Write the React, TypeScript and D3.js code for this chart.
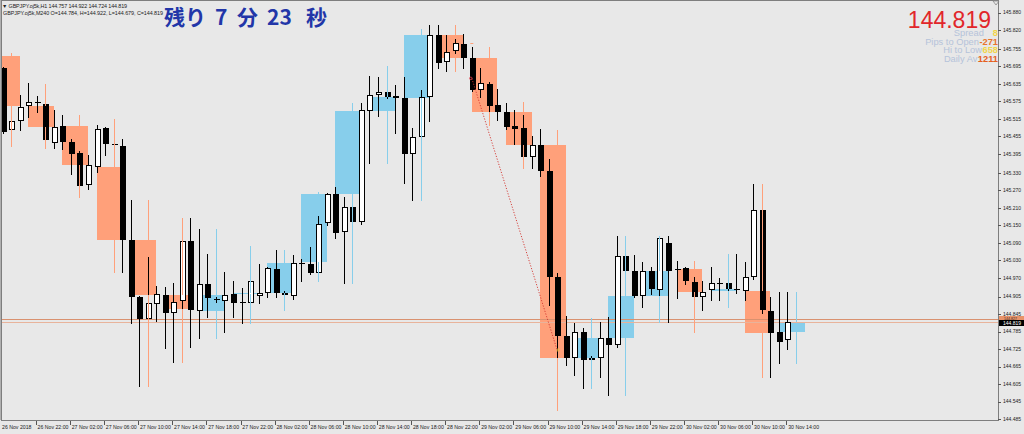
import * as d3 from 'd3';

// H1 bars from 26 Nov 18:00 to 30 Nov 14:00 (93 bars)
const h1Open = [
  145.689, 145.477, 145.509, 145.558, 145.573, 145.566, 145.433, 145.491, 145.437, 145.397,
  145.287, 145.351, 145.483, 145.428, 145.422, 145.100, 144.905, 144.830, 144.880, 144.911,
  144.848, 144.891, 145.097, 144.857, 144.949, 144.898, 144.891, 144.913, 144.887, 144.882,
  144.909, 144.919, 144.999, 144.916, 144.909, 145.022, 145.016, 144.985, 145.158, 145.259,
  145.126, 145.214, 145.162, 145.543, 145.597, 145.607, 145.593, 145.585, 145.394, 145.454,
  145.591, 145.802, 145.709, 145.749, 145.772, 145.725, 145.614, 145.634, 145.562, 145.540,
  145.490, 145.485, 145.385, 145.425, 145.337, 144.974, 144.770, 144.693, 144.785, 144.693,
  144.693, 144.762, 144.739, 145.044, 144.994, 144.907, 144.994, 144.928, 145.090, 145.001,
  145.002, 144.954, 144.905, 144.928, 144.952, 144.951, 144.931, 144.925, 144.971, 145.204,
  144.857, 144.784, 144.757,
];
const h1High = [
  145.693, 145.528, 145.597, 145.637, 145.594, 145.571, 145.546, 145.527, 145.447, 145.406,
  145.390, 145.494, 145.486, 145.433, 145.447, 145.237, 144.907, 145.040, 144.942, 144.939,
  144.951, 145.134, 145.176, 145.137, 145.052, 144.905, 144.989, 144.960, 144.934, 145.014,
  145.016, 145.006, 145.065, 144.925, 145.048, 145.036, 145.074, 145.182, 145.262, 145.280,
  145.248, 145.220, 145.570, 145.662, 145.657, 145.610, 145.631, 145.660, 145.485, 145.614,
  145.837, 145.836, 145.803, 145.790, 145.806, 145.763, 145.688, 145.640, 145.616, 145.570,
  145.545, 145.528, 145.456, 145.479, 145.376, 144.985, 144.839, 144.813, 144.796, 144.700,
  144.819, 144.836, 145.113, 145.050, 145.048, 145.025, 145.008, 145.111, 145.113, 145.028,
  145.008, 144.973, 144.960, 145.006, 144.968, 144.955, 145.051, 145.025, 145.291, 145.291,
  144.905, 144.922, 144.922,
];
const h1Low = [
  145.466, 145.422, 145.477, 145.520, 145.540, 145.417, 145.414, 145.411, 145.326, 145.248,
  145.273, 145.334, 145.392, 145.417, 144.988, 144.814, 144.599, 144.825, 144.823, 144.728,
  144.681, 144.850, 144.731, 144.763, 144.837, 144.888, 144.785, 144.837, 144.814, 144.814,
  144.882, 144.903, 144.903, 144.900, 144.896, 144.960, 144.983, 144.960, 145.150, 145.108,
  144.951, 145.155, 145.156, 145.365, 145.526, 145.585, 145.465, 145.296, 145.237, 145.440,
  145.509, 145.688, 145.680, 145.740, 145.690, 145.612, 145.591, 145.494, 145.511, 145.482,
  145.429, 145.383, 145.345, 145.319, 144.876, 144.516, 144.671, 144.636, 144.590, 144.680,
  144.630, 144.568, 144.733, 144.990, 144.905, 144.871, 144.914, 144.819, 144.819, 144.899,
  144.950, 144.880, 144.859, 144.893, 144.893, 144.925, 144.919, 144.893, 144.965, 144.850,
  144.630, 144.679, 144.724,
];
const h1Close = [
  145.471, 145.508, 145.557, 145.573, 145.571, 145.443, 145.486, 145.436, 145.395, 145.285,
  145.357, 145.482, 145.429, 145.424, 145.100, 144.903, 144.830, 144.882, 144.913, 144.850,
  144.888, 145.097, 144.859, 144.949, 144.899, 144.895, 144.912, 144.885, 144.882, 144.960,
  144.916, 145.002, 144.916, 144.912, 145.022, 145.016, 144.985, 145.156, 145.257, 145.122,
  145.211, 145.162, 145.545, 145.596, 145.606, 145.591, 145.588, 145.393, 145.454, 145.591,
  145.803, 145.708, 145.745, 145.776, 145.725, 145.614, 145.637, 145.559, 145.540, 145.488,
  145.482, 145.385, 145.425, 145.337, 144.971, 144.770, 144.693, 144.785, 144.688, 144.688,
  144.762, 144.739, 145.044, 144.994, 144.907, 144.994, 144.930, 145.105, 144.994, 144.996,
  144.960, 144.905, 144.922, 144.951, 144.949, 144.930, 144.928, 144.971, 145.204, 144.859,
  144.781, 144.750, 144.819,
];

// M240 overlay, each one spans four H1 bars
const h4Open = [
  145.731, 145.558, 145.491, 145.351, 145.100, 144.911, 144.857, 144.913, 144.919, 145.023,
  145.259, 145.543, 145.585, 145.802, 145.725, 145.540, 145.425, 144.693, 144.762, 144.907,
  145.001, 144.926, 144.925, 144.784,
];
const h4High = [
  145.742, 145.635, 145.528, 145.514, 145.237, 145.176, 145.137, 145.079, 145.065, 145.263,
  145.568, 145.696, 145.822, 145.837, 145.760, 145.574, 145.477, 144.831, 145.113, 145.113,
  145.028, 145.051, 145.291, 144.922,
];
const h4Low = [
  145.422, 145.415, 145.248, 144.988, 144.599, 144.681, 144.763, 144.814, 144.859, 144.960,
  144.951, 145.365, 145.237, 145.680, 145.494, 145.345, 144.516, 144.590, 144.568, 144.819,
  144.785, 144.871, 144.630, 144.679,
];
const h4Close = [
  145.559, 145.486, 145.357, 145.100, 144.911, 144.862, 144.912, 144.916, 145.022, 145.257,
  145.543, 145.589, 145.803, 145.725, 145.540, 145.425, 144.693, 144.762, 144.907, 144.994,
  144.922, 144.930, 144.781, 144.819,
];

const timeLabels = [
  '26 Nov 2018', '26 Nov 22:00', '27 Nov 02:00', '27 Nov 06:00', '27 Nov 10:00', '27 Nov 14:00',
  '27 Nov 18:00', '27 Nov 22:00', '28 Nov 02:00', '28 Nov 06:00', '28 Nov 10:00', '28 Nov 14:00',
  '28 Nov 18:00', '28 Nov 22:00', '29 Nov 02:00', '29 Nov 06:00', '29 Nov 10:00', '29 Nov 14:00',
  '29 Nov 18:00', '29 Nov 22:00', '30 Nov 02:00', '30 Nov 06:00', '30 Nov 10:00', '30 Nov 14:00',
];
const priceLabels = [
  '145.880', '145.820', '145.755', '145.695', '145.635', '145.575', '145.515', '145.455',
  '145.395', '145.330', '145.270', '145.210', '145.150', '145.090', '145.030', '144.970',
  '144.905', '144.845', '144.785', '144.725', '144.665', '144.605', '144.545', '144.485',
];

const bid = 144.819;
const ask = 144.827;
const trendBars = [55, 65];
const trendPrices = [145.654, 144.722];

const infoLabels = ['Spread', 'Pips to Open', 'Hi to Low', 'Daily Av'];
const infoValues = ['8', '-271', '658', '1211'];

const W = 1024;
const H = 434;
const plot = { left: 2, right: 998, top: 1, bottom: 420 };
const SALMON = '#FFA07A';
const SKY = '#87CEEB';
const BG = '#E8E8E8';
const small = "'Liberation Sans', Arial, sans-serif";

export default function App() {
  const x = d3.scaleLinear().domain([0, 92]).range([2.68, 787.44]);
  const y = d3.scaleLinear().domain([144.485, 145.88]).range([419.1, 12.5]);
  const px = (i: number) => Math.round(x(i));
  const py = (v: number) => Math.round(y(v));

  const bars = h1Open.map((o, i) => ({ i, o, h: h1High[i], l: h1Low[i], c: h1Close[i] }));
  const h4 = h4Open.map((o, k) => ({ first: k * 4 - 1, o, h: h4High[k], l: h4Low[k], c: h4Close[k] }));

  const infoColors = ['#F2D54A', '#E8742C', '#F2D54A', '#E5601E'];
  const infoGap = [9, 0.5, 0.5, 0.5];
  const infoBase = [36, 44.5, 53, 61.5];

  return (
    <svg width={W} height={H} style={{ position: 'fixed', left: 0, top: 0, background: BG }}>
      <defs>
        <clipPath id="plotClip">
          <rect x={plot.left} y={plot.top} width={plot.right - plot.left} height={plot.bottom - plot.top} />
        </clipPath>
      </defs>
      <rect x={0} y={0} width={W} height={H} fill={BG} />

      <g clipPath="url(#plotClip)" shapeRendering="crispEdges">
        {/* M240 bodies behind everything */}
        {h4.map((b, k) => {
          const x0 = px(b.first);
          const x1 = px(b.first + 3);
          const top = py(Math.max(b.o, b.c));
          const bot = py(Math.min(b.o, b.c));
          return (
            <rect key={'b' + k} x={x0} y={top} width={x1 - x0} height={Math.max(1, bot - top)}
              fill={b.c >= b.o ? SKY : SALMON} />
          );
        })}

        {/* bid / ask lines */}
        <line x1={plot.left} x2={plot.right} y1={py(ask) + 0.5} y2={py(ask) + 0.5} stroke="#D9916F" />
        <line x1={plot.left} x2={plot.right} y1={py(bid) + 0.5} y2={py(bid) + 0.5} stroke="#E8B39B" />

        {/* H1 candles */}
        {bars.map(b => {
          const cx = px(b.i);
          const top = py(Math.max(b.o, b.c));
          const bot = py(Math.min(b.o, b.c));
          const up = b.c > b.o;
          const bh = bot - top;
          return (
            <g key={'c' + b.i}>
              <line x1={cx + 0.5} x2={cx + 0.5} y1={py(b.h)} y2={py(b.l) + 1} stroke="#000" />
              {up && bh >= 2 ? (
                <rect x={cx - 1.5} y={top + 0.5} width={5} height={bh - 1} fill="#fff" stroke="#000" />
              ) : (
                <rect x={cx - 2} y={top} width={6} height={Math.max(1, bh)} fill="#000" />
              )}
            </g>
          );
        })}

        {/* M240 wicks, drawn over the H1 candles outside the body */}
        {h4.map((b, k) => {
          const wx = px(b.first + 2) + 0.5;
          const col = b.c >= b.o ? SKY : SALMON;
          const top = py(Math.max(b.o, b.c));
          const bot = py(Math.min(b.o, b.c));
          return (
            <g key={'w' + k}>
              <line x1={wx} x2={wx} y1={py(b.h)} y2={top} stroke={col} />
              <line x1={wx} x2={wx} y1={Math.max(bot, top + 1)} y2={py(b.l) + 1} stroke={col} />
            </g>
          );
        })}
      </g>

      {/* trend line */}
      <line x1={x(trendBars[0])} y1={y(trendPrices[0])} x2={x(trendBars[1])} y2={y(trendPrices[1])}
        stroke="#D2332E" strokeWidth={0.9} strokeDasharray="1.2 1.6" />
      <circle cx={x(trendBars[0]) - 1} cy={y(trendPrices[0])} r={1.3} fill="none" stroke="#E0404A" strokeWidth={0.8} />
      <circle cx={x(trendBars[1]) + 1} cy={y(trendPrices[1])} r={1.2} fill="none" stroke="#F0C040" strokeWidth={0.8} />
      <line x1={x(trendBars[0]) - 1.5} x2={x(trendBars[0]) + 1.5} y1={43.5} y2={43.5} stroke={SALMON} />

      {/* frame */}
      <rect x={1.5} y={0.5} width={plot.right - 1.5} height={plot.bottom - 0.5} fill="none" stroke="#7E7E7E" shapeRendering="crispEdges" />
      <line x1={0.5} x2={0.5} y1={0} y2={plot.bottom} stroke="#B0B0B0" />
      <path d="M993,1 L999,1 L996,5 Z" fill="none" stroke="#8A8A8A" strokeWidth={0.8} />

      {/* price axis */}
      <g fontFamily={small} fontSize={5} fill="#222">
        {priceLabels.map(t => (
          <g key={t}>
            <line x1={plot.right} x2={plot.right + 3} y1={py(+t) + 0.5} y2={py(+t) + 0.5} stroke="#555" shapeRendering="crispEdges" />
            <text x={1003} y={y(+t) + 1.8}>{t}</text>
          </g>
        ))}
        <rect x={999} y={316} width={25} height={4} fill="#E8936A" />
        <text x={1004} y={319.6} fontSize={3.6} fill="#3a2a20">144.827</text>
        <rect x={999} y={320} width={25} height={6} fill="#000" />
        <text x={1003} y={324.8} fill="#fff">144.819</text>
      </g>

      {/* time axis */}
      <g fontFamily={small} fontSize={5.2} fill="#222">
        {timeLabels.map((t, j) => {
          const tx = x(j * 4);
          return (
            <g key={t}>
              {j > 0 && (
                <line x1={Math.round(tx) - 0.5} x2={Math.round(tx) - 0.5} y1={plot.bottom + 1} y2={plot.bottom + 5} stroke="#555" shapeRendering="crispEdges" />
              )}
              <text x={j === 0 ? 2 : tx + 0.8} y={428.5}>{t}</text>
            </g>
          );
        })}
      </g>

      {/* header lines */}
      <g fontFamily={small} fontSize={5.4} fill="#222">
        <text x={2} y={7.5} textLength={125} lengthAdjust="spacing">▼ GBPJPY.oj5k,H1  144.757 144.922 144.724 144.819</text>
        <text x={3} y={15} textLength={160} lengthAdjust="spacing">GBPJPY.oj5k,M240  O=144.784,  H=144.922,  L=144.679,  C=144.819</text>
      </g>

      <text fontFamily="'Noto Sans CJK JP', sans-serif" fontSize={21} fontWeight="bold" fill="#2236A8" y={25}>
        <tspan x={164}>残り</tspan>
        <tspan x={215}>7</tspan>
        <tspan x={237}>分</tspan>
        <tspan x={267}>23</tspan>
        <tspan x={306}>秒</tspan>
      </text>

      {/* info panel */}
      <text x={991} y={28} textAnchor="end" fontFamily={small} fontSize={23} fill="#E1262A">144.819</text>
      <g fontFamily={small} fontSize={9.3}>
        {infoLabels.map((t, j) => (
          <text key={t} x={998} y={infoBase[j]} textAnchor="end">
            <tspan fill="#B5C3DA">{t}</tspan>
            <tspan dx={infoGap[j]} fill={infoColors[j]} fontWeight="bold">{infoValues[j]}</tspan>
          </text>
        ))}
      </g>
    </svg>
  );
}
